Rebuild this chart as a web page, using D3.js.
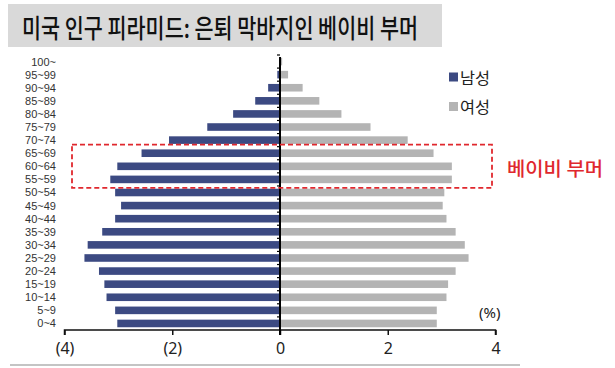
<!DOCTYPE html>
<html><head><meta charset="utf-8">
<script src="https://cdn.jsdelivr.net/npm/d3@7"></script>
<style>
body{margin:0;background:#fff;}
svg{display:block;font-family:"Noto Sans CJK KR","Noto Sans",sans-serif;}
</style></head>
<body><svg id="c" width="615" height="368"></svg>
<script>
const ageGroups = ["0~4","5~9","10~14","15~19","20~24","25~29","30~34","35~39","40~44","45~49","50~54","55~59","60~64","65~69","70~74","75~79","80~84","85~89","90~94","95~99","100~"];
const maleValues = [3.02,3.06,3.22,3.26,3.36,3.63,3.57,3.30,3.06,2.95,3.06,3.15,3.02,2.57,2.06,1.35,0.87,0.46,0.22,0.05,0.01];
const femaleValues = [2.91,2.91,3.09,3.12,3.26,3.50,3.43,3.26,3.09,3.02,3.05,3.19,3.19,2.85,2.37,1.68,1.14,0.73,0.42,0.15,0.04];
const xTicks = [-4,-2,0,2,4];
const xTickLabels = ["(4)","(2)","0","2","4"];
const seriesNames = ["남성","여성"];
const highlightGroups = ["55~59","60~64","65~69"];

const svg = d3.select("#c");
const navy = "#3c4a82", grey = "#b4b4b4";

// title band
svg.append("rect").attr("x",8).attr("y",4).attr("width",434).attr("height",43).attr("fill","#d9d9d9");
svg.append("text").attr("x",22).attr("y",37.5).attr("font-size",26).attr("font-weight",500)
  .attr("textLength",396).attr("lengthAdjust","spacingAndGlyphs")
  .attr("fill","#111").text("미국 인구 피라미드: 은퇴 막바지인 베이비 부머");

const x = d3.scaleLinear().domain([-4,4]).range([64.5,495.5]);
const y = d3.scaleBand().domain(ageGroups).range([330,55]).paddingInner(0.42).paddingOuter(0.21);

const g = svg.append("g");
g.selectAll("rect.m").data(ageGroups).join("rect")
  .attr("x",(d,i)=>x(-maleValues[i])).attr("y",d=>y(d))
  .attr("width",(d,i)=>x(0)-x(-maleValues[i])).attr("height",y.bandwidth()).attr("fill",navy);
g.selectAll("rect.f").data(ageGroups).join("rect")
  .attr("x",x(0)).attr("y",d=>y(d))
  .attr("width",(d,i)=>x(femaleValues[i])-x(0)).attr("height",y.bandwidth()).attr("fill",grey);

// x axis
const xa = svg.append("g").attr("transform","translate(0,330)")
  .call(d3.axisBottom(x).tickValues(xTicks).tickSize(5).tickFormat((d,i)=>xTickLabels[i]));
xa.select(".domain").attr("stroke","#111").attr("stroke-width",1.5).attr("d",`M${x(-4)},5V0H${x(4)}V5`);
xa.selectAll(".tick line").attr("stroke","#111").attr("stroke-width",1.5);
xa.selectAll(".tick text").attr("font-size",16).attr("fill","#222").attr("dy","1.0em")
  .attr("font-family","'Noto Sans',sans-serif");

// vertical axis at zero
svg.append("line").attr("x1",x(0)).attr("x2",x(0)).attr("y1",57).attr("y2",335)
  .attr("stroke","#000").attr("stroke-width",2);
const step = y.step();
svg.selectAll("line.vt").data(ageGroups).join("line")
  .attr("x1",x(0)-3).attr("x2",x(0))
  .attr("y1",d=>y(d)-y.paddingInner()*step/2).attr("y2",d=>y(d)-y.paddingInner()*step/2)
  .attr("stroke","#000").attr("stroke-width",1.2);

// y labels
svg.selectAll("text.yl").data(ageGroups).join("text")
  .attr("x",56).attr("y",d=>y(d)+y.bandwidth()/2).attr("dy","0.36em")
  .attr("text-anchor","end").attr("font-size",11).attr("fill","#333")
  .attr("font-family","'Liberation Sans',Arial,sans-serif").text(d=>d);

// legend
const leg = svg.append("g");
[navy,grey].forEach((c,i)=>{
  leg.append("rect").attr("x",449).attr("y",72.5+i*29.5).attr("width",9).attr("height",9).attr("fill",c);
  leg.append("text").attr("x",460).attr("y",83.5+i*29.5).attr("font-size",16).attr("fill","#222")
    .attr("textLength",30).attr("lengthAdjust","spacingAndGlyphs").text(seriesNames[i]);
});

// highlight box
const boxTop = y(highlightGroups[2]) - y.paddingInner()*step/2 - 2;
const boxBot = y(highlightGroups[0]) + y.bandwidth() + y.paddingInner()*step/2 + 2;
svg.append("rect").attr("x",72).attr("y",boxTop).attr("width",420).attr("height",boxBot-boxTop)
  .attr("fill","none").attr("stroke","#e0282e").attr("stroke-width",1.8).attr("stroke-dasharray","5,3");
svg.append("text").attr("x",507).attr("y",176).attr("font-size",19).attr("font-weight",500)
  .attr("textLength",96).attr("lengthAdjust","spacingAndGlyphs")
  .attr("fill","#e0282e").text("베이비 부머");

// unit
svg.append("text").attr("x",479).attr("y",318).attr("font-size",15).attr("fill","#222")
  .attr("font-family","'Noto Sans',sans-serif").text("(%)");

// bottom rule
svg.append("line").attr("x1",10).attr("x2",520).attr("y1",365).attr("y2",365).attr("stroke","#b0b0b0").attr("stroke-width",1.5);
</script></body></html>
